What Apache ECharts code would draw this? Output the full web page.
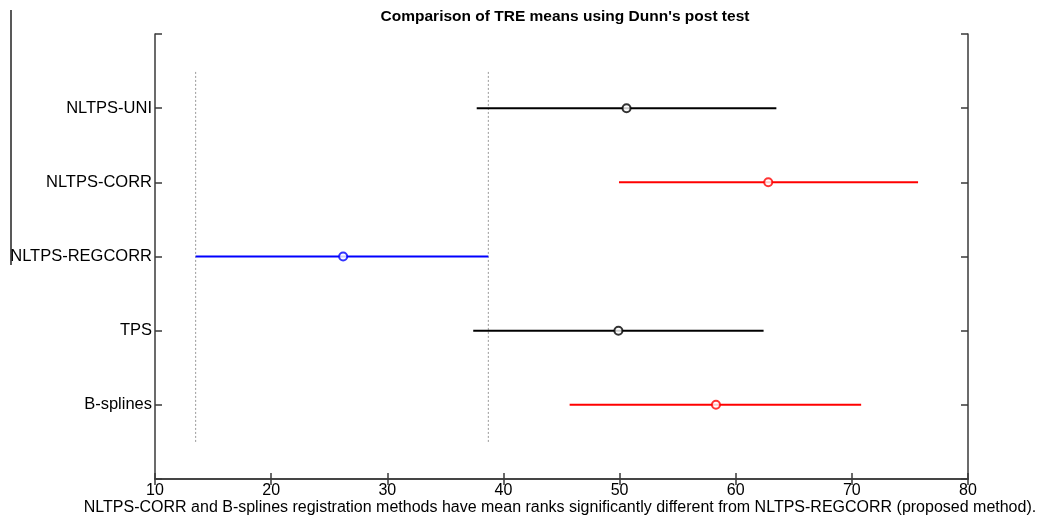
<!DOCTYPE html>
<html>
<head>
<meta charset="utf-8">
<script src="https://cdn.jsdelivr.net/npm/echarts@6/dist/echarts.min.js"></script>
<style>
html,body{margin:0;padding:0;background:#fff;}
#chart{width:1043px;height:521px;}
</style>
</head>
<body>
<div id="chart"></div>
<script>
// Groups from bottom (position 1) to top (position 5)
const groups = ['B-splines', 'TPS', 'NLTPS-REGCORR', 'NLTPS-CORR', 'NLTPS-UNI'];
const means  = [58.3, 49.9, 26.2, 62.8, 50.6];
const lower  = [45.7, 37.4, 13.5, 49.95, 37.7];
const upper  = [70.8, 62.4, 38.7, 75.7, 63.5];
const groupColors = ['#ff0000', '#000000', '#0000ff', '#ff0000', '#000000'];
// Comparison interval bounds of the proposed method (dotted reference lines)
const refBounds = [13.5, 38.7];
const xTicks = [10, 20, 30, 40, 50, 60, 70, 80];

const titleText = "Comparison of TRE means using Dunn's post test";
const xLabelText = 'NLTPS-CORR and B-splines registration methods have mean ranks significantly different from NLTPS-REGCORR (proposed method).';

const FONT = 'Liberation Sans, Arial, sans-serif';
const axisCol = '#3a3a3a';

const series = [];
refBounds.forEach(function (v) {
  series.push({
    type: 'line', silent: true, symbol: 'none', animation: false,
    data: [[v, 0.5], [v, 5.5]],
    lineStyle: { color: '#9a9a9a', width: 1, type: [2, 2] },
    z: 1
  });
});
groups.forEach(function (g, i) {
  series.push({
    type: 'line', symbol: 'none', animation: false,
    data: [[lower[i], i + 1], [upper[i], i + 1]],
    lineStyle: { color: groupColors[i], width: 2 },
    z: 2
  });
  series.push({
    type: 'scatter', animation: false,
    data: [[means[i], i + 1]],
    symbol: 'circle', symbolSize: 8,
    itemStyle: { color: '#fff', borderColor: groupColors[i], borderWidth: 2 },
    z: 3
  });
});

const chart = echarts.init(document.getElementById('chart'));
chart.setOption({
  animation: false,
  backgroundColor: '#fff',
  title: {
    text: titleText, left: 560, top: 4, textAlign: 'center',
    textStyle: { fontFamily: FONT, fontSize: 15.5, fontWeight: 'bold', color: '#000' }
  },
  grid: { left: 155, right: 75, top: 34, bottom: 42, containLabel: false, outerBoundsMode: 'none' },
  xAxis: [{
    type: 'value', min: 10, max: 80, interval: 10, position: 'bottom',
    axisLine: { show: true, lineStyle: { color: axisCol, width: 1.5 } },
    axisTick: { show: true, inside: true, length: 6, lineStyle: { color: axisCol, width: 1.5 } },
    axisLabel: { show: true, color: '#000', fontFamily: FONT, fontSize: 16, margin: 4,
      formatter: function (v) { return xTicks.indexOf(v) >= 0 ? String(v) : ''; } },
    splitLine: { show: false }
  }, {
    type: 'value', min: 10, max: 80, interval: 10, position: 'top',
    axisLine: { show: true, lineStyle: { color: axisCol, width: 1.5 } },
    axisTick: { show: true, inside: true, length: 6, lineStyle: { color: axisCol, width: 1.5 } },
    axisLabel: { show: false }, splitLine: { show: false }
  }],
  yAxis: [{
    type: 'value', min: 0, max: 6, interval: 1, position: 'left',
    axisLine: { show: true, lineStyle: { color: axisCol, width: 1.5 } },
    axisTick: { show: true, inside: true, length: 7, lineStyle: { color: axisCol, width: 1.5 } },
    axisLabel: { show: true, color: '#000', fontFamily: FONT, fontSize: 16.5, margin: 3,
      formatter: function (v) { return (v >= 1 && v <= groups.length) ? groups[v - 1] : ''; } },
    splitLine: { show: false }
  }, {
    type: 'value', min: 0, max: 6, interval: 1, position: 'right',
    axisLine: { show: true, lineStyle: { color: axisCol, width: 1.5 } },
    axisTick: { show: true, inside: true, length: 7, lineStyle: { color: axisCol, width: 1.5 } },
    axisLabel: { show: false }, splitLine: { show: false }
  }],
  graphic: [{
    type: 'line', silent: true,
    shape: { x1: 11, y1: 10, x2: 11, y2: 265 },
    style: { stroke: '#222', lineWidth: 1.5 }
  }, {
    type: 'text', silent: true, x: 560, y: 508,
    style: { text: xLabelText, fill: '#000', font: '16px ' + FONT, align: 'center', verticalAlign: 'middle' }
  }],
  series: series
});
</script>
</body>
</html>
